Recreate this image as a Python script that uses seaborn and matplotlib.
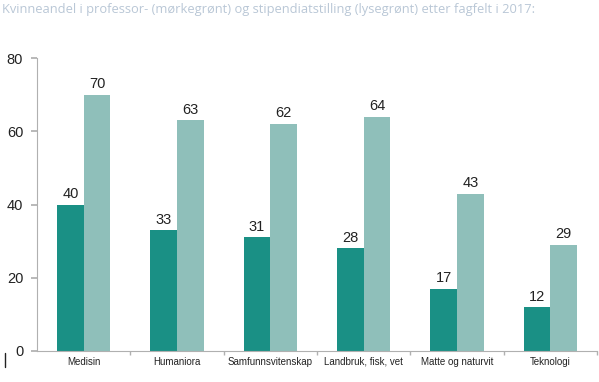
import matplotlib
matplotlib.use("Agg")
import matplotlib.pyplot as plt
import seaborn as sns
import pandas as pd
from matplotlib.ticker import MultipleLocator
from matplotlib.lines import Line2D

categories = ["Medisin", "Humaniora", "Samfunnsvitenskap", "Landbruk, fisk, vet", "Matte og naturvit", "Teknologi"]
professor = [40, 33, 31, 28, 17, 12]
stipendiat = [70, 63, 62, 64, 43, 29]
series_names = ["Professor", "Stipendiat"]
title = "Kvinneandel i professor- (mørkegrønt) og stipendiatstilling (lysegrønt) etter fagfelt i 2017:"

df = pd.DataFrame({
    "fagfelt": categories * 2,
    "andel": professor + stipendiat,
    "stilling": [series_names[0]] * len(categories) + [series_names[1]] * len(categories),
})

sns.set_theme(style="white")
plt.rcParams["font.family"] = ["Liberation Sans", "DejaVu Sans"]

fig = plt.figure(figsize=(5.99, 3.82), dpi=100)
ax = fig.add_axes([0.0618, 0.0812, 0.9349, 0.7668])

palette = {"Professor": "#1a9085", "Stipendiat": "#8fbfba"}
sns.barplot(data=df, x="fagfelt", y="andel", hue="stilling", palette=palette,
            width=0.57, gap=0, saturation=1, ax=ax, legend=False, linewidth=0)

for cont in ax.containers:
    ax.bar_label(cont, fmt="%d", padding=2.5, fontsize=10.5, color="#222222")

ax.set_ylim(0, 80)
ax.set_xlim(-0.5, len(categories) - 0.5)
ax.yaxis.set_major_locator(MultipleLocator(20))
ax.set_xlabel("")
ax.set_ylabel("")
for s in ["top", "right"]:
    ax.spines[s].set_visible(False)
for s in ["left", "bottom"]:
    ax.spines[s].set_color("#b0b0b0")
    ax.spines[s].set_linewidth(0.8)

ax.tick_params(axis="y", labelsize=10.5, colors="#222222", length=4, color="#b0b0b0", left=True, pad=6)
ax.tick_params(axis="x", labelsize=7, colors="#222222", length=0, pad=4)
ax.set_xticks(range(len(categories)))
ax.set_xticks([i + 0.5 for i in range(len(categories))], minor=True)
ax.tick_params(axis="x", which="minor", length=3, color="#b0b0b0", bottom=True)

fig.text(0.004, 0.975, title, fontsize=9.3, color="#b9c7d6", family=["Open Sans", "DejaVu Sans"],
         ha="left", va="center")

# small cursor mark at bottom left, as in the reference
fig.add_artist(Line2D([4.5 / 599, 4.5 / 599], [1 - 367 / 382, 1 - 353 / 382],
                      transform=fig.transFigure, color="#222222", linewidth=1))

fig.savefig("out.png", dpi=100)
